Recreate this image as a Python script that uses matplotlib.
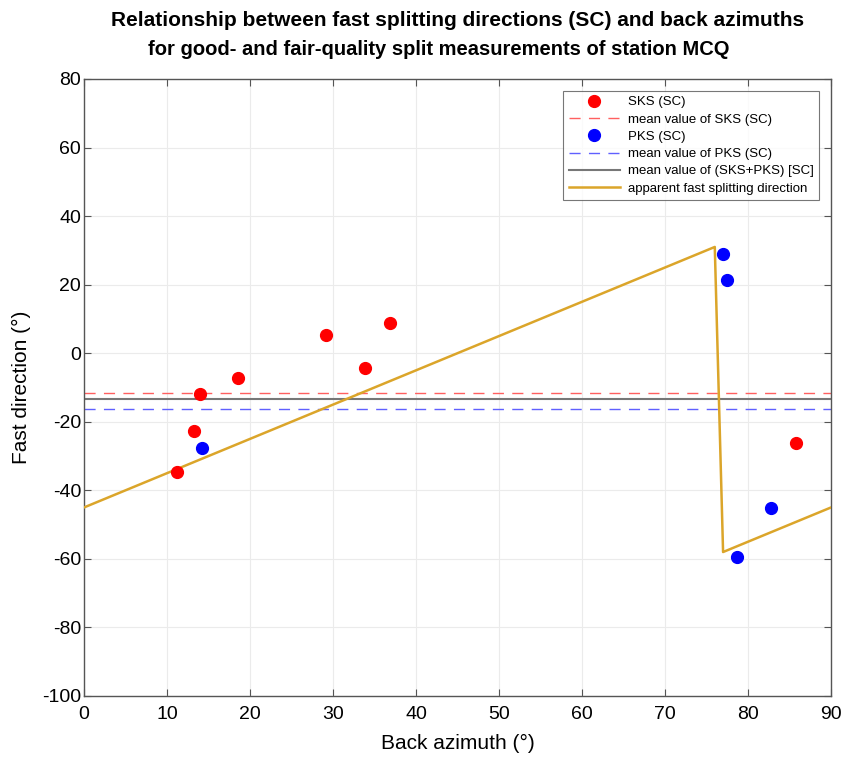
import numpy as np
import matplotlib
matplotlib.use('Agg')
import matplotlib.pyplot as plt

plt.rcParams['font.family'] = ['Liberation Sans', 'DejaVu Sans']
plt.rcParams['axes.unicode_minus'] = False

# SKS (SC) 测量值
sks_baz = [11.2, 13.3, 14.0, 18.5, 29.2, 33.9, 36.9, 85.8]
sks_fast = [-34.6, -22.7, -11.9, -7.2, 5.3, -4.3, 8.8, -26.2]

# PKS (SC) 测量值
pks_baz = [14.2, 77.0, 77.5, 78.7, 82.8]
pks_fast = [-27.6, 29.0, 21.4, -59.4, -45.1]

# 视快波方向曲线
app_baz = [0, 76, 77, 90]
app_fast = [-45, 31, -58, -45]

mean_sks = np.mean(sks_fast)
mean_pks = np.mean(pks_fast)
mean_all = np.mean(sks_fast + pks_fast)

fig = plt.figure(figsize=(8.45, 7.58), dpi=100)
ax = fig.add_axes([0.0994, 0.0818, 0.884, 0.814])

ax.plot(sks_baz, sks_fast, 'o', color='red', markersize=8.5, label='SKS (SC)', zorder=4)
ax.axhline(mean_sks, color='#ff6060', linestyle=(0, (8, 6)), linewidth=1.0,
           label='mean value of SKS (SC)')
ax.plot(pks_baz, pks_fast, 'o', color='blue', markersize=8.5, label='PKS (SC)', zorder=4)
ax.axhline(mean_pks, color='#6060ff', linestyle=(0, (8, 6)), linewidth=1.0,
           label='mean value of PKS (SC)')
ax.axhline(mean_all, color='#777777', linewidth=1.5,
           label='mean value of (SKS+PKS) [SC]')
ax.plot(app_baz, app_fast, color='#DBA52A', linewidth=1.8,
        label='apparent fast splitting direction', zorder=3)

ax.set_xlim(0, 90)
ax.set_ylim(-100, 80)
ax.set_xticks(np.arange(0, 91, 10))
ax.set_yticks(np.arange(-100, 81, 20))
ax.grid(True, color='#ebebeb', linewidth=0.8)
ax.set_axisbelow(True)
ax.tick_params(direction='in', top=True, right=True, labelsize=14, length=5,
               color='#555555')
ax.tick_params(axis='x', pad=7)
ax.tick_params(axis='y', pad=2)
for s in ax.spines.values():
    s.set_color('#555555')
    s.set_linewidth(1.0)

ax.set_xlabel('Back azimuth (°)', fontsize=15, labelpad=8)
ax.set_ylabel('Fast direction (°)', fontsize=15, labelpad=8)

# 标题两行
ax.text(0.5, 1.0 + 58 / 617, 'Relationship between fast splitting directions (SC) and back azimuths',
        transform=ax.transAxes, ha='center', va='center', fontsize=15, fontweight='bold')
ax.text(0.475, 1.0 + 29 / 617, 'for good- and fair-quality split measurements of station MCQ',
        transform=ax.transAxes, ha='center', va='center', fontsize=14.5, fontweight='bold')

leg = ax.legend(loc='upper right', fontsize=9.5, frameon=True, fancybox=False,
                edgecolor='#555555', borderaxespad=0.9, handlelength=3.9,
                handletextpad=0.6, labelspacing=0.38)
leg.get_frame().set_linewidth(0.8)

fig.savefig('out.png', dpi=100)
